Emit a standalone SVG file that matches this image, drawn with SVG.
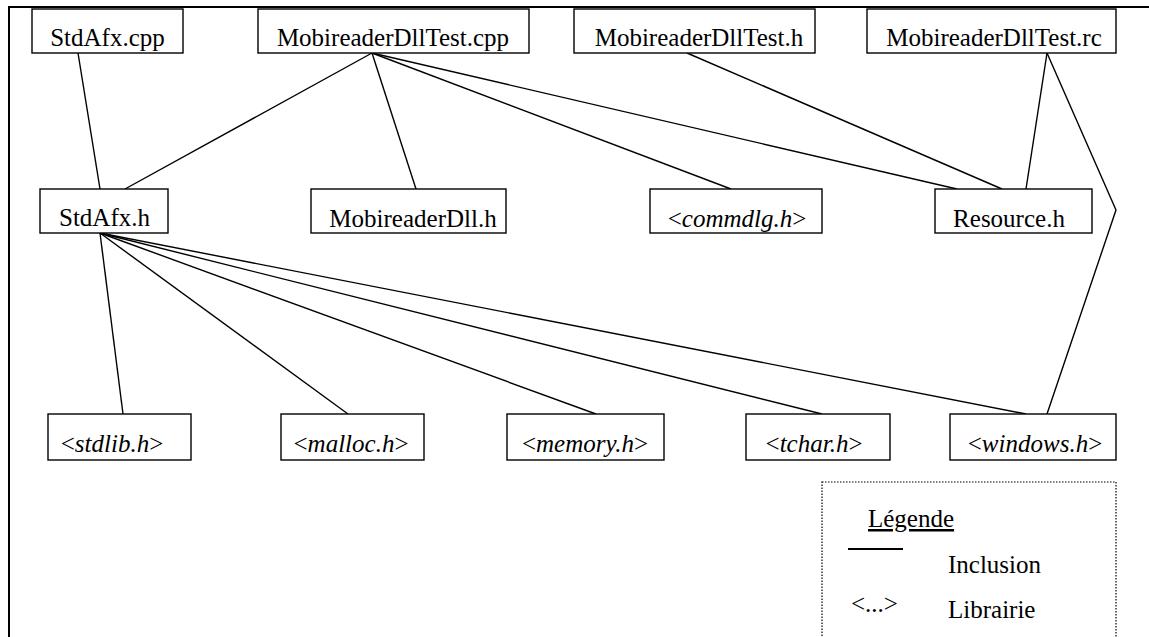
<svg xmlns="http://www.w3.org/2000/svg" width="1149" height="637" viewBox="0 0 1149 637">
<style>
.box{fill:#fff;stroke:#000;stroke-width:1.4}
.t{font-family:"Liberation Serif","Times New Roman",serif;font-size:25px;fill:#000;text-anchor:middle}
.i{font-style:italic}
.c{stroke:#000;stroke-width:1.4;fill:none}
</style>
<rect width="1149" height="637" fill="#fff"/>
<g id="frame"><path d="M9,637 V7 H1149" fill="none" stroke="#000" stroke-width="2"/></g>
<g id="connectors">
<line class="c" x1="78" y1="53" x2="100" y2="189"/>
<line class="c" x1="372" y1="53" x2="125" y2="189"/>
<line class="c" x1="372" y1="53" x2="416" y2="189"/>
<line class="c" x1="372" y1="53" x2="731" y2="189"/>
<line class="c" x1="372" y1="53" x2="957" y2="189"/>
<line class="c" x1="687" y1="53" x2="1002" y2="189"/>
<line class="c" x1="1047" y1="53" x2="1026" y2="189"/>
<polyline class="c" points="1047,53 1116,210 1047,414"/>
<line class="c" x1="100" y1="233" x2="123" y2="414"/>
<line class="c" x1="100" y1="233" x2="348" y2="414"/>
<line class="c" x1="100" y1="233" x2="596" y2="414"/>
<line class="c" x1="100" y1="233" x2="822" y2="414"/>
<line class="c" x1="100" y1="233" x2="1026" y2="414"/>
</g>
<g id="stdafx_cpp"><rect class="box" x="32" y="9" width="151" height="44"/><text class="t" x="107.5" y="46">StdAfx.cpp</text></g>
<g id="mdt_cpp"><rect class="box" x="258" y="9" width="271" height="44"/><text class="t" x="393" y="46">MobireaderDllTest.cpp</text></g>
<g id="mdt_h"><rect class="box" x="574" y="9" width="241" height="44"/><text class="t" x="699" y="46">MobireaderDllTest.h</text></g>
<g id="mdt_rc"><rect class="box" x="867" y="9" width="249" height="44"/><text class="t" x="994" y="46">MobireaderDllTest.rc</text></g>
<g id="stdafx_h"><rect class="box" x="40" y="189" width="128" height="44"/><text class="t" x="104.5" y="226">StdAfx.h</text></g>
<g id="mobireaderdll_h"><rect class="box" x="311" y="189" width="195" height="44"/><text class="t" x="413" y="227">MobireaderDll.h</text></g>
<g id="commdlg_h"><rect class="box" x="650" y="189" width="172" height="44"/><text class="t" x="737" y="227">&lt;<tspan class="i">commdlg.h</tspan>&gt;</text></g>
<g id="resource_h"><rect class="box" x="935" y="189" width="157" height="44"/><text class="t" x="1009" y="227">Resource.h</text></g>
<g id="stdlib_h"><rect class="box" x="48" y="414" width="143" height="46"/><text class="t" x="112" y="452">&lt;<tspan class="i">stdlib.h</tspan>&gt;</text></g>
<g id="malloc_h"><rect class="box" x="281" y="414" width="143" height="46"/><text class="t" x="351" y="452">&lt;<tspan class="i">malloc.h</tspan>&gt;</text></g>
<g id="memory_h"><rect class="box" x="507" y="414" width="157" height="46"/><text class="t" x="585" y="452">&lt;<tspan class="i">memory.h</tspan>&gt;</text></g>
<g id="tchar_h"><rect class="box" x="746" y="414" width="144" height="46"/><text class="t" x="814" y="452">&lt;<tspan class="i">tchar.h</tspan>&gt;</text></g>
<g id="windows_h"><rect class="box" x="950" y="414" width="166" height="46"/><text class="t" x="1035" y="452">&lt;<tspan class="i">windows.h</tspan>&gt;</text></g>
<g id="legend">
<rect x="822" y="482" width="294" height="170" fill="#fff" stroke="#000" stroke-width="1.2" stroke-dasharray="1.5,1.5"/>
<text class="t" x="868" y="527" style="text-anchor:start;text-decoration:underline">Légende</text>
<line x1="848" y1="549" x2="903" y2="549" stroke="#000" stroke-width="2"/>
<text class="t" x="948" y="573" style="text-anchor:start">Inclusion</text>
<text class="t" x="851" y="612" style="text-anchor:start">&lt;...&gt;</text>
<text class="t" x="948" y="618" style="text-anchor:start">Librairie</text>
</g>
</svg>
